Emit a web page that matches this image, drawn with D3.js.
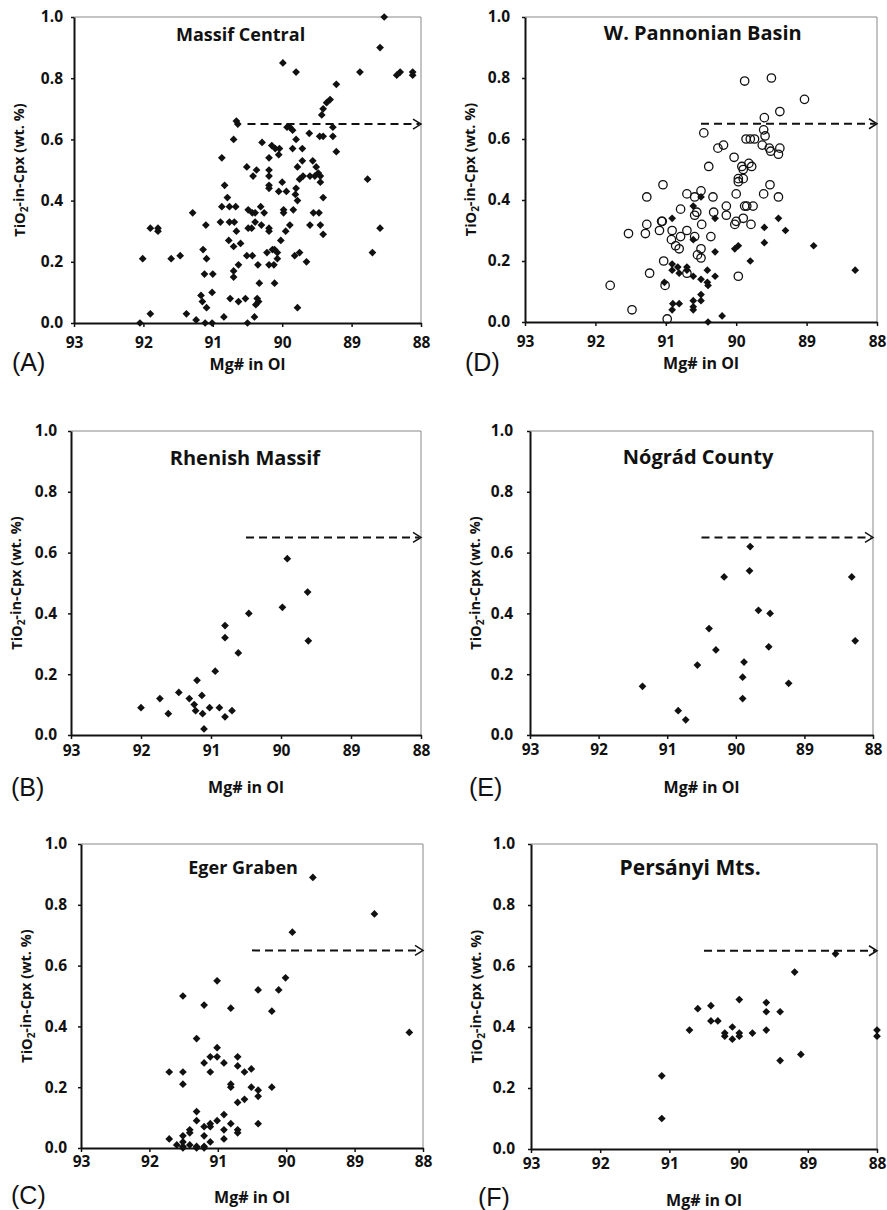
<!DOCTYPE html>
<html>
<head>
<meta charset="utf-8">
<script src="https://cdn.jsdelivr.net/npm/d3@7"></script>
<style>
  body { margin: 0; background: #fff; }
  svg text { font-family: "Open Sans", Lato, sans-serif; font-weight: bold; fill: #111; }
  svg text.letter { font-family: "Liberation Sans", Arial, sans-serif; font-weight: normal; }
</style>
</head>
<body>
<div id="chart"></div>
<script>
// ticks shared by all six panels
var xTicks = [93, 92, 91, 90, 89, 88];
var yTicks = [0, 0.2, 0.4, 0.6, 0.8, 1.0];
var arrowY = 0.65, arrowFrom = 90.5, arrowTo = 88;

// [Mg# in Ol, TiO2 in Cpx]
var massifCentral = [
  [88.53,1.00],[88.59,0.90],[89.99,0.85],[89.80,0.82],[88.88,0.82],[88.35,0.81],[88.30,0.82],
  [88.12,0.82],[88.12,0.81],[89.22,0.78],[89.31,0.73],[89.36,0.72],[89.41,0.70],[89.43,0.68],
  [90.66,0.66],[90.64,0.65],[89.93,0.64],[89.89,0.64],[89.85,0.63],[90.70,0.60],[89.80,0.60],
  [89.61,0.62],[89.46,0.61],[89.41,0.61],[89.27,0.64],[89.27,0.61],[89.22,0.56],[90.29,0.59],
  [90.15,0.58],[90.10,0.57],[90.04,0.57],[90.05,0.55],[90.19,0.54],[90.87,0.54],[90.51,0.51],
  [90.37,0.50],[90.42,0.48],[90.19,0.50],[89.85,0.57],[89.71,0.57],[89.78,0.51],[89.71,0.53],
  [89.75,0.47],[89.70,0.48],[89.60,0.48],[89.53,0.48],[89.48,0.49],[89.51,0.51],[89.56,0.53],
  [89.45,0.48],[89.45,0.46],[89.41,0.41],[90.19,0.48],[90.19,0.45],[90.19,0.44],[90.83,0.45],
  [90.00,0.46],[89.94,0.43],[90.05,0.43],[89.98,0.37],[89.98,0.36],[89.80,0.44],[89.81,0.42],
  [89.78,0.40],[89.84,0.37],[89.89,0.32],[89.95,0.30],[90.02,0.27],[89.55,0.36],[89.47,0.36],
  [89.60,0.32],[89.45,0.32],[89.41,0.29],[90.79,0.41],[90.87,0.38],[90.76,0.38],[90.67,0.38],
  [90.89,0.33],[90.76,0.33],[90.69,0.33],[90.66,0.30],[90.77,0.27],[90.70,0.25],[90.49,0.37],
  [90.43,0.36],[90.39,0.36],[90.31,0.38],[90.26,0.36],[90.39,0.33],[90.49,0.31],[90.44,0.31],
  [90.30,0.32],[90.19,0.31],[90.19,0.30],[91.29,0.36],[91.10,0.32],[91.90,0.31],[91.79,0.31],
  [91.79,0.30],[92.01,0.21],[91.60,0.21],[91.47,0.22],[91.14,0.24],[91.09,0.21],[91.12,0.16],
  [91.00,0.16],[91.01,0.10],[91.17,0.09],[91.15,0.07],[91.09,0.05],[90.70,0.17],[90.70,0.15],
  [90.63,0.19],[90.60,0.26],[90.51,0.22],[90.43,0.22],[90.35,0.19],[90.33,0.13],[90.22,0.23],
  [90.19,0.19],[90.14,0.24],[90.11,0.24],[90.12,0.19],[90.07,0.23],[90.07,0.21],[90.11,0.13],
  [90.75,0.08],[90.63,0.07],[90.53,0.08],[90.36,0.08],[90.34,0.07],[90.38,0.06],[90.84,0.02],
  [90.40,0.02],[90.50,0.00],[91.11,0.00],[91.01,0.00],[91.38,0.03],[91.24,0.01],[91.90,0.03],
  [92.05,0.00],[89.78,0.05],[89.65,0.20],[89.82,0.22],[89.75,0.23],[88.77,0.47],[88.59,0.31],
  [88.70,0.23]
];

var pannonianOpen = [
  [89.88,0.79],[89.50,0.80],[89.03,0.73],[89.38,0.69],[89.60,0.67],[89.61,0.63],[89.59,0.61],
  [90.46,0.62],[89.86,0.60],[89.80,0.60],[89.74,0.60],[89.63,0.58],[89.53,0.57],[89.51,0.56],
  [89.38,0.57],[89.40,0.55],[90.26,0.57],[90.18,0.58],[90.39,0.51],[90.03,0.54],[89.92,0.51],
  [89.90,0.50],[89.90,0.47],[89.82,0.52],[89.78,0.51],[89.97,0.47],[89.97,0.46],[91.04,0.45],
  [91.27,0.41],[90.70,0.42],[90.59,0.41],[90.50,0.43],[90.33,0.41],[90.00,0.42],[90.14,0.38],
  [89.88,0.38],[89.85,0.38],[89.76,0.38],[89.61,0.42],[89.52,0.45],[89.40,0.41],[90.79,0.37],
  [90.56,0.36],[90.59,0.35],[90.32,0.36],[90.14,0.35],[90.00,0.33],[89.90,0.34],[90.02,0.32],
  [89.79,0.32],[91.06,0.33],[91.05,0.33],[91.27,0.32],[91.29,0.29],[91.53,0.29],[91.09,0.30],
  [90.91,0.30],[90.70,0.30],[90.49,0.32],[90.59,0.28],[90.36,0.28],[90.92,0.27],[90.79,0.28],
  [90.86,0.25],[90.81,0.24],[90.50,0.24],[90.55,0.22],[90.50,0.21],[91.03,0.20],[91.23,0.16],
  [90.70,0.16],[89.97,0.15],[91.01,0.12],[91.79,0.12],[91.48,0.04],[90.98,0.01]
];

var pannonianFilled = [
  [90.50,0.41],[90.61,0.38],[90.91,0.34],[90.30,0.34],[89.60,0.31],[89.40,0.34],[89.30,0.30],
  [90.61,0.27],[89.60,0.26],[88.90,0.25],[90.02,0.24],[89.97,0.25],[90.30,0.23],[89.80,0.20],
  [88.31,0.17],[90.91,0.19],[90.91,0.17],[90.83,0.18],[90.70,0.18],[90.81,0.16],[90.70,0.17],
  [90.61,0.15],[90.50,0.14],[90.41,0.17],[90.30,0.15],[90.41,0.13],[90.40,0.12],[91.02,0.13],
  [90.50,0.09],[90.50,0.07],[90.61,0.07],[90.61,0.04],[90.90,0.06],[90.91,0.04],[90.81,0.06],
  [90.20,0.02],[90.40,0.00],[90.61,0.05]
];

var rhenishMassif = [
  [92.00,0.09],[91.73,0.12],[91.61,0.07],[91.46,0.14],[91.31,0.12],[91.24,0.10],[91.22,0.08],
  [91.20,0.18],[91.13,0.13],[91.12,0.07],[91.10,0.02],[91.02,0.09],[90.94,0.21],[90.88,0.09],
  [90.80,0.06],[90.70,0.08],[90.80,0.36],[90.80,0.32],[90.61,0.27],[90.46,0.40],[89.98,0.42],
  [89.91,0.58],[89.62,0.47],[89.61,0.31]
];

var nogradCounty = [
  [91.36,0.16],[90.84,0.08],[90.73,0.05],[90.56,0.23],[90.39,0.35],[90.29,0.28],[90.17,0.52],
  [89.90,0.19],[89.90,0.12],[89.88,0.24],[89.80,0.54],[89.79,0.62],[89.67,0.41],[89.50,0.40],
  [89.52,0.29],[89.23,0.17],[88.31,0.52],[88.26,0.31]
];

var egerGraben = [
  [89.61,0.89],[88.71,0.77],[89.91,0.71],[90.01,0.56],[90.11,0.52],[90.41,0.52],[90.21,0.45],
  [91.01,0.55],[91.51,0.50],[91.20,0.47],[90.81,0.46],[88.20,0.38],[91.31,0.36],[91.01,0.33],
  [91.11,0.30],[91.01,0.30],[90.71,0.30],[91.20,0.28],[90.91,0.28],[90.71,0.27],[90.51,0.26],
  [90.61,0.25],[91.11,0.25],[91.71,0.25],[91.51,0.25],[91.51,0.21],[90.81,0.21],[90.81,0.20],
  [90.51,0.20],[90.41,0.19],[90.41,0.17],[90.21,0.20],[90.61,0.16],[90.71,0.15],[90.41,0.08],
  [91.31,0.12],[91.31,0.09],[90.91,0.11],[91.01,0.09],[91.11,0.08],[91.11,0.07],[91.20,0.07],
  [90.81,0.08],[90.91,0.06],[90.71,0.06],[90.71,0.05],[91.41,0.06],[91.41,0.05],[91.51,0.04],
  [91.71,0.03],[90.91,0.03],[91.20,0.04],[91.11,0.02],[91.51,0.02],[91.51,0.005],[91.51,0.00],
  [91.60,0.01],[91.41,0.01],[91.31,0.005],[91.31,0.00],[91.20,0.005],[91.20,0.00]
];

var persanyiMts = [
  [91.11,0.24],[91.11,0.10],[90.71,0.39],[90.59,0.46],[90.40,0.47],[90.40,0.42],[90.30,0.42],
  [90.20,0.38],[90.20,0.37],[90.09,0.40],[90.09,0.36],[89.99,0.49],[89.99,0.38],[89.99,0.37],
  [89.80,0.38],[89.60,0.48],[89.60,0.45],[89.60,0.39],[89.40,0.45],[89.40,0.29],[89.19,0.58],
  [89.10,0.31],[88.60,0.64],[88.00,0.39],[88.00,0.37]
];

// panel layout (pixels)
var panels = [
  {title:"Massif Central", letter:"(A)", filled:massifCentral, open:[],
   l:74, r:421, t:17, b:323, tx:0.48, ty:18, ts:18, ypad:11, xpad:20, xlab:41.5, ly:362, lx:12},
  {title:"W. Pannonian Basin", letter:"(D)", filled:pannonianFilled, open:pannonianOpen,
   l:525, r:877, t:17, b:322, tx:0.505, ty:16, ts:20, ypad:15, xpad:20, xlab:41.5, ly:362, lx:465},
  {title:"Rhenish Massif", letter:"(B)", filled:rhenishMassif, open:[],
   l:71, r:421, t:431, b:735, tx:0.497, ty:27, ts:20, ypad:14, xpad:16, xlab:52, ly:787, lx:11},
  {title:"Nógrád County", letter:"(E)", filled:nogradCounty, open:[],
   l:530, r:873, t:431, b:735, tx:0.49, ty:26, ts:20, ypad:17, xpad:15, xlab:52, ly:787, lx:469},
  {title:"Eger Graben", letter:"(C)", filled:egerGraben, open:[],
   l:81, r:423, t:844, b:1148, tx:0.474, ty:24, ts:18, ypad:14, xpad:14, xlab:49, ly:1195, lx:11},
  {title:"Persányi Mts.", letter:"(F)", filled:persanyiMts, open:[],
   l:531, r:877, t:844, b:1149, tx:0.46, ty:24, ts:21, ypad:16, xpad:15, xlab:51, ly:1197, lx:478}
];

var svg = d3.select("#chart").append("svg")
    .attr("width", 887)
    .attr("height", 1210);

var diamond = d3.symbol().type(d3.symbolSquare).size(30);

panels.forEach(function(p) {
    var x = d3.scaleLinear().domain([93, 88]).range([p.l, p.r]);
    var y = d3.scaleLinear().domain([0, 1]).range([p.b, p.t]);
    var g = svg.append("g");

    // grey frame on top and right
    g.append("path")
        .attr("d", "M" + p.l + "," + p.t + "H" + p.r + "V" + p.b)
        .attr("fill", "none")
        .attr("stroke", "#888")
        .attr("stroke-width", 1);

    var xAxis = g.append("g")
        .attr("transform", "translate(0," + p.b + ")")
        .call(d3.axisBottom(x).tickValues(xTicks).tickFormat(d3.format("d")).tickSize(4).tickSizeOuter(0));
    var yAxis = g.append("g")
        .attr("transform", "translate(" + p.l + ",0)")
        .call(d3.axisLeft(y).tickValues(yTicks).tickFormat(d3.format(".1f")).tickSize(3).tickSizeOuter(0).tickPadding(p.ypad - 3));
    [xAxis, yAxis].forEach(function(a) {
        a.select(".domain").attr("stroke", "#111").attr("stroke-width", 2);
        a.selectAll(".tick line").attr("stroke", "#111").attr("stroke-width", 1.5);
        a.selectAll("text").attr("font-size", 15.5).attr("fill", "#111");
    });
    xAxis.selectAll("text").attr("dy", "0.35em").attr("y", p.xpad);

    // dashed arrow at 0.65
    g.append("line")
        .attr("x1", x(arrowFrom)).attr("x2", x(arrowTo) - 2)
        .attr("y1", y(arrowY)).attr("y2", y(arrowY))
        .attr("stroke", "#111").attr("stroke-width", 2)
        .attr("stroke-dasharray", "8,5");
    g.append("path")
        .attr("d", "M" + (x(arrowTo) - 8) + "," + (y(arrowY) - 5) + "L" + x(arrowTo) + "," + y(arrowY) +
                   "L" + (x(arrowTo) - 8) + "," + (y(arrowY) + 5))
        .attr("fill", "none").attr("stroke", "#111").attr("stroke-width", 1.5);

    // points
    g.selectAll(".open")
        .data(p.open)
        .enter().append("circle")
        .attr("cx", function(d) { return x(d[0]); })
        .attr("cy", function(d) { return y(d[1]); })
        .attr("r", 4.2)
        .attr("fill", "none")
        .attr("stroke", "#111")
        .attr("stroke-width", 1.3);
    g.selectAll(".dot")
        .data(p.filled)
        .enter().append("path")
        .attr("d", diamond)
        .attr("transform", function(d) { return "translate(" + x(d[0]) + "," + y(d[1]) + ") rotate(45)"; })
        .attr("fill", "#111");

    // texts
    g.append("text")
        .attr("x", p.l + p.tx * (p.r - p.l))
        .attr("y", p.t + p.ty)
        .attr("dy", "0.35em")
        .attr("text-anchor", "middle")
        .attr("font-size", p.ts)
        .text(p.title);
    g.append("text")
        .attr("x", (p.l + p.r) / 2)
        .attr("y", p.b + p.xlab)
        .attr("dy", "0.35em")
        .attr("text-anchor", "middle")
        .attr("font-size", 16)
        .text("Mg# in Ol");
    var yl = g.append("text")
        .attr("transform", "translate(" + (p.l - 54) + "," + ((p.t + p.b) / 2) + ") rotate(-90)")
        .attr("dy", "0.35em")
        .attr("text-anchor", "middle")
        .attr("font-size", 14.5);
    yl.append("tspan").text("TiO");
    yl.append("tspan").attr("font-size", 10).attr("dy", "0.3em").text("2");
    yl.append("tspan").attr("dy", "-0.3em").text("-in-Cpx (wt. %)");
    g.append("text")
        .attr("class", "letter")
        .attr("x", p.lx)
        .attr("y", p.ly)
        .attr("dy", "0.35em")
        .attr("font-size", 25)
        .text(p.letter);
});
</script>
</body>
</html>
